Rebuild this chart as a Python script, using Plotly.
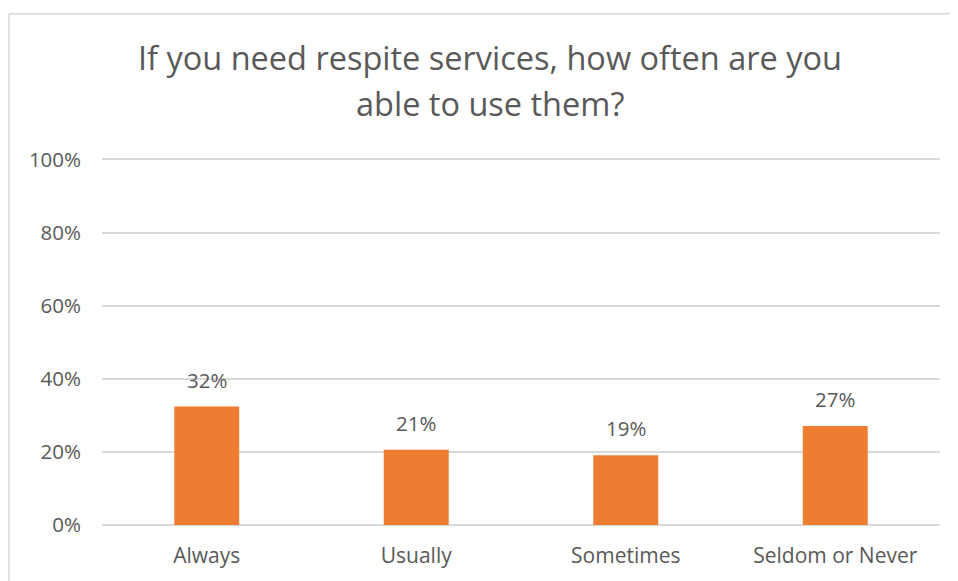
import plotly.graph_objects as go

categories = ["Always", "Usually", "Sometimes", "Seldom or Never"]
values = [0.324, 0.206, 0.191, 0.271]
title_lines = ["If you need respite services, how often are you", "able to use them?"]
y_ticks = [0, 0.2, 0.4, 0.6, 0.8, 1.0]

FONT = "'Open Sans', sans-serif"
GREY = "#595959"

# the page body has an 8px margin; work in window pixels and offset
OFF = 8
W, H = 958 - OFF, 581 - OFF
L, R, T, B = 102 - OFF, 18, 158 - OFF, 54
ph = H - T - B
pw = W - L - R

def py(p):
    return (H - B - (p - OFF)) / ph

def px(p):
    return ((p - OFF) - L) / pw

fig = go.Figure(go.Bar(
    x=categories, y=values,
    marker=dict(color="#ED7D31", line=dict(width=0)),
    hoverinfo="x+y",
))

annotations = []
for line, ypix in zip(title_lines, [57, 103]):
    annotations.append(dict(text=line, xref="paper", yref="paper", x=px(489.5), y=py(ypix),
                            xanchor="center", yanchor="middle", showarrow=False,
                            font=dict(family=FONT, size=32.5, color=GREY)))
for c, v in zip(categories, values):
    annotations.append(dict(text=f"{v:.0%}", x=c, y=v, xref="x", yref="y",
                            xanchor="center", yanchor="bottom", yshift=11, showarrow=False,
                            font=dict(family=FONT, size=20.5, color=GREY)))

fig.update_layout(
    width=W, height=H,
    margin=dict(l=L, r=R, t=T, b=B),
    paper_bgcolor="white", plot_bgcolor="white",
    bargap=0.69,
    showlegend=False,
    annotations=annotations,
    shapes=[
        dict(type="line", xref="paper", yref="paper", x0=px(9), x1=px(9), y0=py(13), y1=py(620),
             line=dict(color="#d9d9d9", width=1.5)),
        dict(type="line", xref="paper", yref="paper", x0=px(9), x1=px(1000), y0=py(13), y1=py(13),
             line=dict(color="#d9d9d9", width=1.5)),
    ],
    xaxis=dict(showgrid=False, showline=False, ticks="", ticklabelstandoff=16,
               tickfont=dict(family=FONT, size=21, color=GREY)),
    yaxis=dict(range=[0, 1.004], tickvals=y_ticks, tickformat=".0%",
               showgrid=True, gridcolor="#d9d9d9", gridwidth=1.5,
               zeroline=True, zerolinecolor="#d9d9d9", zerolinewidth=1.5,
               showline=False, ticks="", ticklabelstandoff=20,
               tickfont=dict(family=FONT, size=20.5, color=GREY)),
)

fig.write_html("out.html")
